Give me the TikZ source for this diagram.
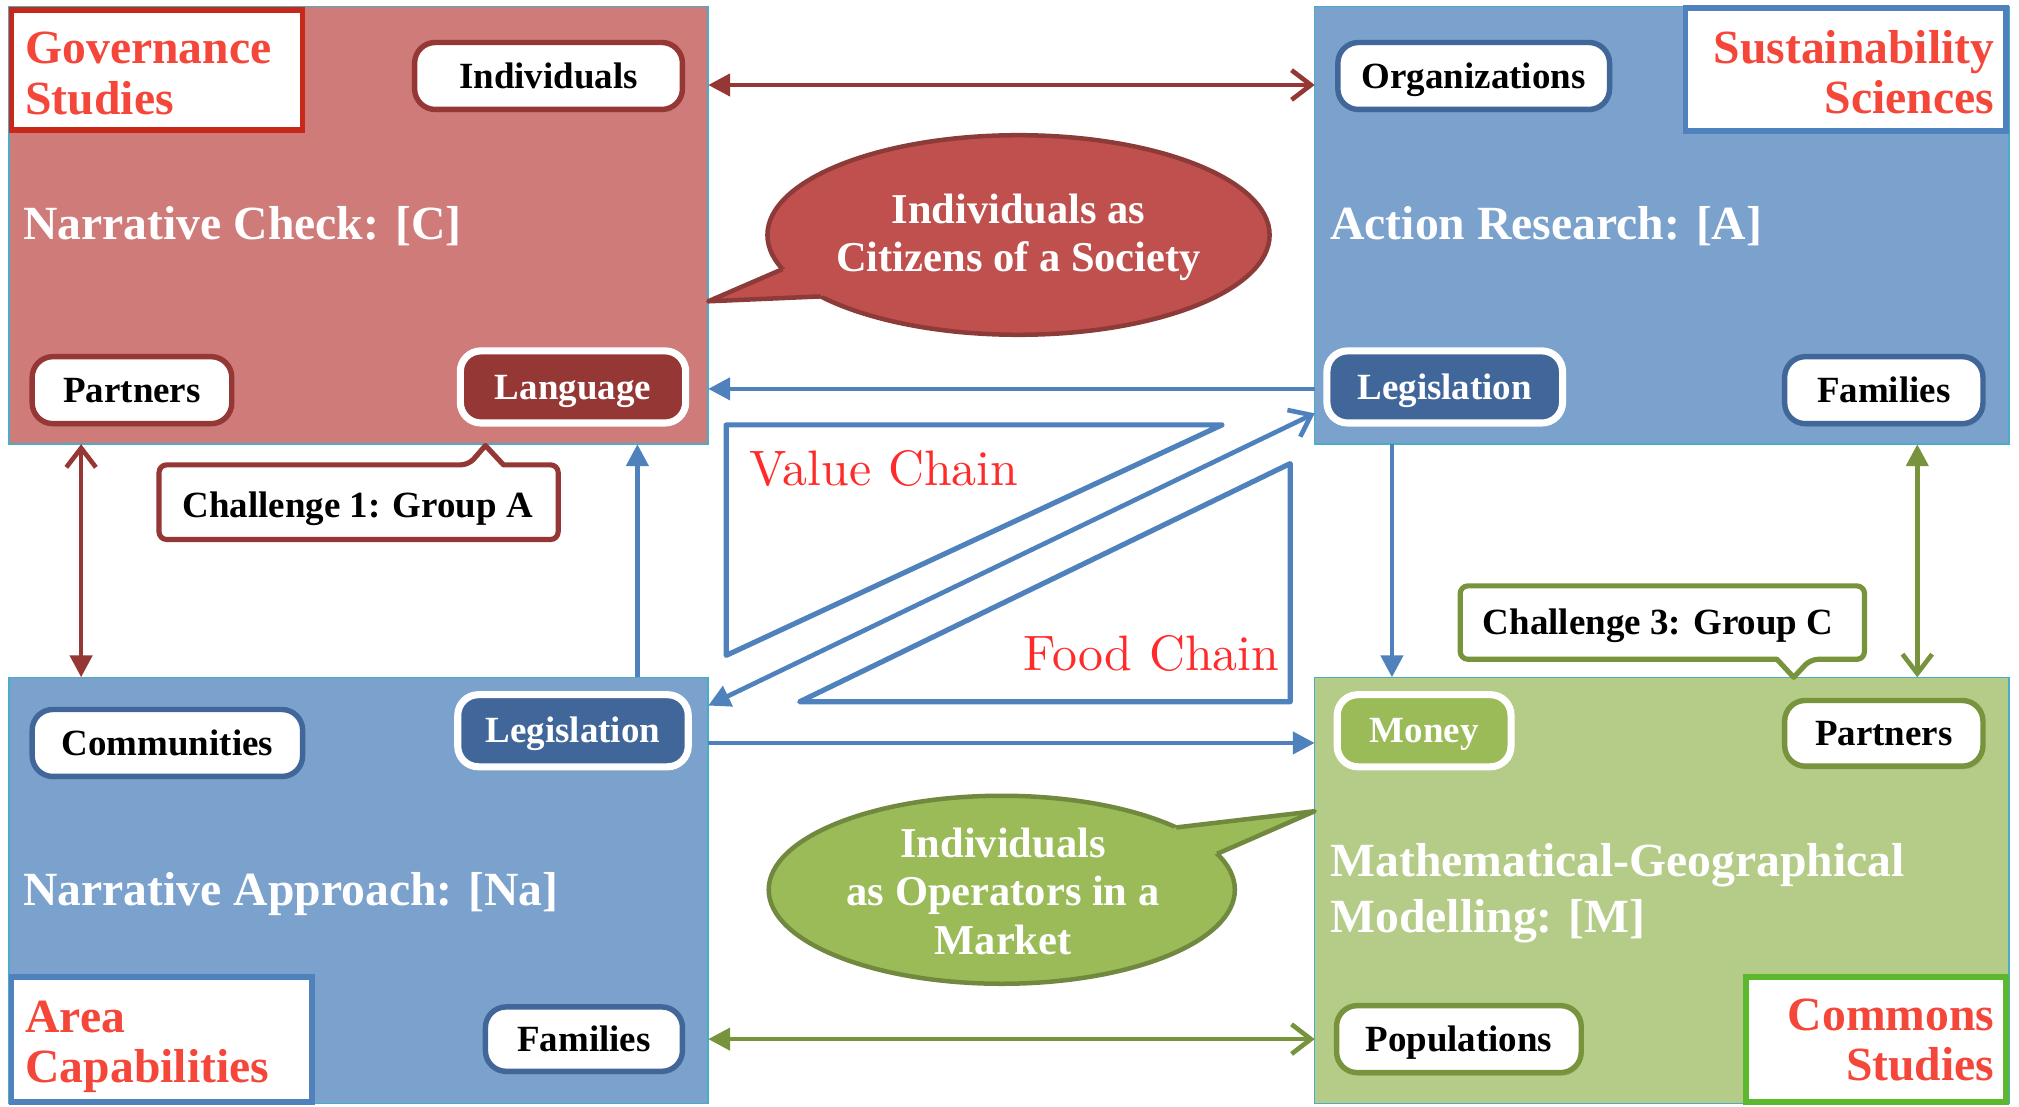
\documentclass[tikz,border=0pt]{standalone}
\usepackage{fontspec}
\setmainfont{Liberation Serif}
\newfontfamily\lmten{lmroman10-regular.otf}
\usetikzlibrary{arrows.meta,shapes.geometric,shadows}
\definecolor{boxred}{HTML}{CF7B79}
\definecolor{boxblue}{HTML}{7BA1CD}
\definecolor{boxgreen}{HTML}{B4CC88}
\definecolor{edgecyan}{HTML}{4BACC6}
\definecolor{dkred}{HTML}{953735}
\definecolor{pillblue}{HTML}{41679A}
\definecolor{grnbd}{HTML}{77933C}
\definecolor{moneyg}{HTML}{9BBB59}
\definecolor{arrblue}{HTML}{4F81BD}
\definecolor{bubred}{HTML}{C0504D}
\definecolor{bubredd}{HTML}{8D3B39}
\definecolor{bubgrn}{HTML}{9BBB59}
\definecolor{bubgrnd}{HTML}{71893F}
\definecolor{lblred}{HTML}{F5463A}
\definecolor{govred}{HTML}{C8281A}
\definecolor{comgrn}{HTML}{5CB82D}
\definecolor{chainred}{HTML}{FF2B2B}
\newcommand\ttlfont{\fontsize{37}{40}\selectfont\bfseries}
\newcommand\pilfont{\fontsize{28.7}{31}\selectfont\bfseries}
\newcommand\bubfont{\fontsize{33}{36}\selectfont\bfseries}
\newcommand\chnfont{\lmten\fontsize{38.7}{42}\selectfont}
\begin{document}
\begin{tikzpicture}[x=1pt,y=-1pt,
  box/.style={draw=edgecyan, line width=1.2pt, inner sep=0pt, outer sep=0pt, anchor=north west},
  lbl/.style={fill=white, inner sep=0pt, outer sep=0pt, anchor=north west, line width=4.5pt,
    drop shadow={opacity=0.2, shadow xshift=1pt, shadow yshift=-2pt}},
  lbltxt/.style={text=lblred, font=\ttlfont, inner sep=0pt},
  ttl/.style={text=white, font=\ttlfont, inner sep=0pt, anchor=base west},
  pill/.style={rounded corners=16pt, fill=white, line width=4.2pt, inner sep=0pt, outer sep=0pt,
    text=black, font=\pilfont, text height=19pt, text depth=0pt,
    drop shadow={opacity=0.25, shadow xshift=1pt, shadow yshift=-2.5pt}},
  fpill/.style={pill, draw=white, line width=5.5pt, text=white},
  arr/.style={line width=3.6pt},
  ftip/.tip={Triangle[length=17pt,width=17pt]},
  otip/.tip={Straight Barb[length=15pt,width=23pt]},
  tri/.style={draw=arrblue, line width=4pt, fill=white, line join=round},
  chn/.style={text=chainred, font=\chnfont, inner sep=0pt, anchor=base west},
  bubtxt/.style={text=white, font=\bubfont, inner sep=0pt, anchor=base},
  call/.style={fill=white, line width=4pt, line join=round,
    drop shadow={opacity=0.2, shadow xshift=1pt, shadow yshift=-2pt}},
  calltxt/.style={text=black, font=\pilfont, inner sep=0pt, anchor=base},
]
\useasboundingbox (0,0) rectangle (1568,859);
\fill[white] (0,0) rectangle (1568,859);

% main boxes
\node[box, fill=boxred, minimum width=543pt, minimum height=340pt] (tl) at (7,5) {};
\node[box, fill=boxblue, minimum width=539pt, minimum height=340pt] (tr) at (1021,5) {};
\node[box, fill=boxblue, minimum width=543pt, minimum height=331pt] (bl) at (7,526) {};
\node[box, fill=boxgreen, minimum width=539pt, minimum height=331pt] (br) at (1021,526) {};

% discipline labels
\node[lbl, draw=govred, minimum width=226pt, minimum height=93pt] (gov) at (9,8) {};
\node[lbltxt, anchor=base west] (gov1) at (19.6,49) {Governance};
\node[lbltxt, anchor=base west] (gov2) at (19.6,89) {Studies};
\node[lbl, draw=arrblue, minimum width=249pt, minimum height=96pt] (sus) at (1309,6) {};
\node[lbltxt, anchor=base east] (sus1) at (1549,49) {Sustainability};
\node[lbltxt, anchor=base east] (sus2) at (1549,88) {Sciences};
\node[lbl, draw=arrblue, minimum width=233pt, minimum height=97pt] (area) at (9,759) {};
\node[lbltxt, anchor=base west] (area1) at (19.6,802) {Area};
\node[lbltxt, anchor=base west] (area2) at (19.6,841) {Capabilities};
\node[lbl, draw=comgrn, minimum width=202pt, minimum height=97pt] (com) at (1356,759) {};
\node[lbltxt, anchor=base east] (com1) at (1549,800) {Commons};
\node[lbltxt, anchor=base east] (com2) at (1549,839) {Studies};

% titles
\node[ttl] (tC) at (18,186) {Narrative Check: [C]};
\node[ttl] (tA) at (1033,186) {Action Research: [A]};
\node[ttl] (tNa) at (18,703.5) {Narrative Approach: [Na]};
\node[ttl] (tM1) at (1033,681) {Mathematical-Geographical};
\node[ttl] (tM2) at (1033,724) {Modelling: [M]};

% pills
\node[pill, draw=dkred, minimum width=208pt, minimum height=52pt] (ind) at (426,59) {Individuals};
\node[pill, draw=dkred, minimum width=155pt, minimum height=52pt] (par1) at (102.5,303) {Partners};
\node[fpill, fill=dkred, minimum width=175pt, minimum height=56pt] (lang) at (445,300.5) {Language};
\node[pill, draw=pillblue, minimum width=211pt, minimum height=52pt] (org) at (1144.5,59) {Organizations};
\node[fpill, fill=pillblue, minimum width=183pt, minimum height=56pt] (leg1) at (1122,300.5) {Legislation};
\node[pill, draw=pillblue, minimum width=154pt, minimum height=52pt] (fam1) at (1463,303) {Families};
\node[pill, draw=pillblue, minimum width=210pt, minimum height=52pt] (comm) at (130,577) {Communities};
\node[fpill, fill=pillblue, minimum width=179pt, minimum height=56pt] (leg2) at (445,567.5) {Legislation};
\node[pill, draw=pillblue, minimum width=153pt, minimum height=50pt] (fam2) at (453.5,807) {Families};
\node[fpill, fill=moneyg, minimum width=135pt, minimum height=56pt] (money) at (1106,567.5) {Money};
\node[pill, draw=grnbd, minimum width=154pt, minimum height=51pt] (par2) at (1463,569.5) {Partners};
\node[pill, draw=grnbd, minimum width=190pt, minimum height=52pt] (pop) at (1133,807) {Populations};

% connectors
\draw[arr, dkred, ftip-otip] (tl.east |- 0,66) -- (tr.west |- 0,66);
\draw[arr, dkred, otip-ftip] (tl.south -| 63,0) -- (bl.north -| 63,0);
\draw[arr, arrblue, -ftip] (bl.north -| 495,0) -- (tl.south -| 495,0);
\draw[arr, arrblue, -ftip] (tr.west |- 0,302) -- (tl.east |- 0,302);
\draw[arr, arrblue, -ftip] (tr.south -| 1081,0) -- (br.north -| 1081,0);
\draw[arr, grnbd, ftip-otip] (tr.south -| 1489,0) -- (br.north -| 1489,0);
\draw[arr, arrblue, -ftip] (bl.east |- 0,577) -- (br.west |- 0,577);
\draw[arr, grnbd, ftip-otip] (bl.east |- 0,807) -- (br.west |- 0,807);
\draw[arr, arrblue, ftip-otip] (bl.east |- 0,548) -- (tr.west |- 0,321);

% chain triangles
\draw[tri] (564,330) -- (949,330) -- (564,509) -- cycle;
\draw[tri] (1002,360) -- (1002,545) -- (621,545) -- cycle;
\node[chn] (vc) at (582,377) {Value Chain};
\node[chn] (fc) at (795,521) {Food Chain};

% red speech bubble
\node[ellipse, fill=bubred, draw=bubredd, line width=3.5pt, minimum width=390pt, minimum height=155pt, inner sep=0pt] (bub1) at (791,182.5) {};
\fill[bubred] (550,234) -- (607.8,209) -- (626.1,206.4) -- (652.7,225.4) -- (637.3,230.2) -- cycle;
\draw[bubredd, line width=3.5pt, line join=round] (607.8,209) -- (550,234) -- (637.3,230.2);
\node[bubtxt] (b1a) at (791,173.5) {Individuals as};
\node[bubtxt] (b1b) at (791,211) {Citizens of a Society};

% green speech bubble
\node[ellipse, fill=bubgrn, draw=bubgrnd, line width=3.5pt, minimum width=362pt, minimum height=146pt, inner sep=0pt] (bub2) at (778,691) {};
\fill[bubgrn] (1021,630) -- (913.5,642.6) -- (897.2,648.4) -- (925.1,666.4) -- (945.2,663.1) -- cycle;
\draw[bubgrnd, line width=3.5pt, line join=round] (913.5,642.6) -- (1021,630) -- (945.2,663.1);
\node[bubtxt] (b2a) at (779,666) {Individuals};
\node[bubtxt] (b2b) at (779,703.5) {as Operators in a};
\node[bubtxt] (b2c) at (779,741) {Market};

% challenge callouts
\draw[call, draw=dkred] (123.5,390) [rounded corners=6pt] -- (123.5,361) -- (364,361) [sharp corners] -- (377,346) -- (391,361) [rounded corners=6pt] -- (433.5,361) -- (433.5,419) -- (123.5,419) -- cycle;
\node[calltxt] (c1) at (277.7,402) {Challenge 1: Group A};
\draw[call, draw=grnbd] (1134,483) [rounded corners=6pt] -- (1134,455) -- (1448,455) -- (1448,512) -- (1406,512) [sharp corners] -- (1393,526) -- (1380,512) [rounded corners=6pt] -- (1134,512) -- cycle;
\node[calltxt] (c3) at (1287.7,492.6) {Challenge 3: Group C};
\end{tikzpicture}
\end{document}
